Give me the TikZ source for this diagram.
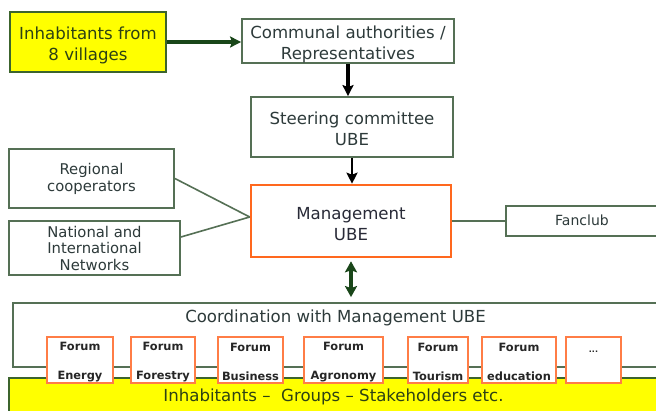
\documentclass[tikz,border=0pt]{standalone}
\usepackage{fontspec}
\setmainfont{DejaVu Sans}
\usetikzlibrary{arrows.meta,calc}
\definecolor{bordc}{RGB}{85,112,85}
\definecolor{inhbord}{RGB}{60,100,45}
\definecolor{inhtxt}{RGB}{45,65,20}
\definecolor{boxtxt}{RGB}{45,58,58}
\definecolor{mgtxt}{RGB}{40,42,55}
\definecolor{orng}{RGB}{255,104,30}
\definecolor{forng}{RGB}{255,125,70}
\definecolor{arrg}{RGB}{25,70,25}
\definecolor{ylw}{RGB}{255,255,0}
\newcommand\mystrut[1]{\rule{0pt}{#1}}
\tikzset{
  box/.style={draw=bordc, line width=1.8pt, fill=white, inner sep=0pt, align=center, text=boxtxt},
  bigtxt/.style={font=\fontsize{16.6}{21}\selectfont},
  smalltxt/.style={font=\fontsize{14.8}{17}\selectfont},
  forumbox/.style={draw=forng, line width=2pt, fill=white, inner sep=0pt, align=center,
    minimum height=46pt, text=black!85, font=\bfseries\fontsize{11.4}{29}\selectfont},
  garrow/.style={draw=arrg, line width=3.2pt, -{Stealth[length=11pt,width=11pt,inset=2pt]}},
  barrow/.style={draw=black, line width=3.3pt, -{Stealth[length=11pt,width=11pt,inset=2pt]}},
  dbl/.style={draw=arrg, line width=3.2pt, {Stealth[length=11pt,width=12pt,inset=2pt]}-{Stealth[length=11pt,width=12pt,inset=2pt]}},
  link/.style={draw=bordc, line width=1.6pt}
}
\begin{document}
\begin{tikzpicture}[x=1pt,y=-1pt]
\useasboundingbox (0,0) rectangle (656,411);
\clip (0,0) rectangle (656,411);
\fill[white] (0,0) rectangle (656,411);
% top
\node[box, bigtxt, draw=inhbord, fill=ylw, text=inhtxt, minimum width=156pt, minimum height=60pt] (inh) at (88,42) {\mystrut{18.5pt}Inhabitants from\\8 villages};
\node[box, bigtxt, minimum width=212pt, minimum height=44pt] (comm) at (348,41) {\mystrut{18.5pt}Communal authorities /\\Representatives};
\node[box, bigtxt, minimum width=202pt, minimum height=60pt] (steer) at (352,127) {\mystrut{16.5pt}Steering committee\\UBE};
\node[box, bigtxt, draw=orng, line width=2.6pt, text=mgtxt, minimum width=200pt, minimum height=72pt] (mgmt) at (351,221) {\mystrut{18.5pt}Management\\UBE};
\node[box, smalltxt, minimum width=165pt, minimum height=59pt] (reg) at (91.5,178.5) {Regional\\cooperators};
\node[box, smalltxt, font=\fontsize{14.8}{16.5}\selectfont, minimum width=171pt, minimum height=54pt] (nat) at (94.5,248) {National and\\International\\Networks};
\node[box, font=\fontsize{14}{17}\selectfont, minimum width=152pt, minimum height=30pt] (fan) at (582,221) {\raisebox{2pt}{Fanclub}};
% bottom
\node[box, draw=inhbord, fill=ylw, text=inhtxt, bigtxt, minimum width=649pt, minimum height=37pt] (base) at (333.5,396.5) {\raisebox{-1.5pt}{Inhabitants –\ \ Groups – Stakeholders etc.}};
\node[box, minimum width=646pt, minimum height=64pt] (coord) at (336,335) {};
\node[bigtxt, text=boxtxt, inner sep=0pt] (coordtxt) at (335.5,318) {Coordination with Management UBE};
% forums
\node[forumbox, minimum width=66pt] (f1) at (80,360) {\mystrut{12.5pt}Forum\\Energy};
\node[forumbox, minimum width=64pt] (f2) at (163,360) {\mystrut{12.5pt}Forum\\Forestry};
\node[forumbox, minimum width=65pt] (f3) at (250.5,360) {\mystrut{12.5pt}Forum\\Business};
\node[forumbox, minimum width=79pt] (f4) at (343.5,360) {\mystrut{12.5pt}Forum\\Agronomy};
\node[forumbox, minimum width=60pt] (f5) at (438,360) {\mystrut{12.5pt}Forum\\Tourism};
\node[forumbox, minimum width=74pt] (f6) at (519,360) {\mystrut{12.5pt}Forum\\education};
\node[forumbox, minimum width=55pt, text height=1pt, text depth=15pt, font=\bfseries\fontsize{8}{10}\selectfont] (f7) at (593.5,360) {...};
% connectors
\coordinate (j) at ([yshift=4pt]mgmt.west);
\draw[garrow] (inh.east) -- (inh.east -| comm.west);
\draw[barrow] (comm.south) -- (comm.south |- steer.north);
\draw[barrow, line width=2.8pt] (steer.south) -- (steer.south |- mgmt.north);
\draw[link] (reg.east) -- (j);
\draw[link] ([yshift=11pt]nat.east) -- (j);
\draw[link] (mgmt.east) -- (fan.west);
\draw[dbl, shorten <=3pt, shorten >=5pt] (mgmt.south) -- (mgmt.south |- coord.north);
\end{tikzpicture}
\end{document}
